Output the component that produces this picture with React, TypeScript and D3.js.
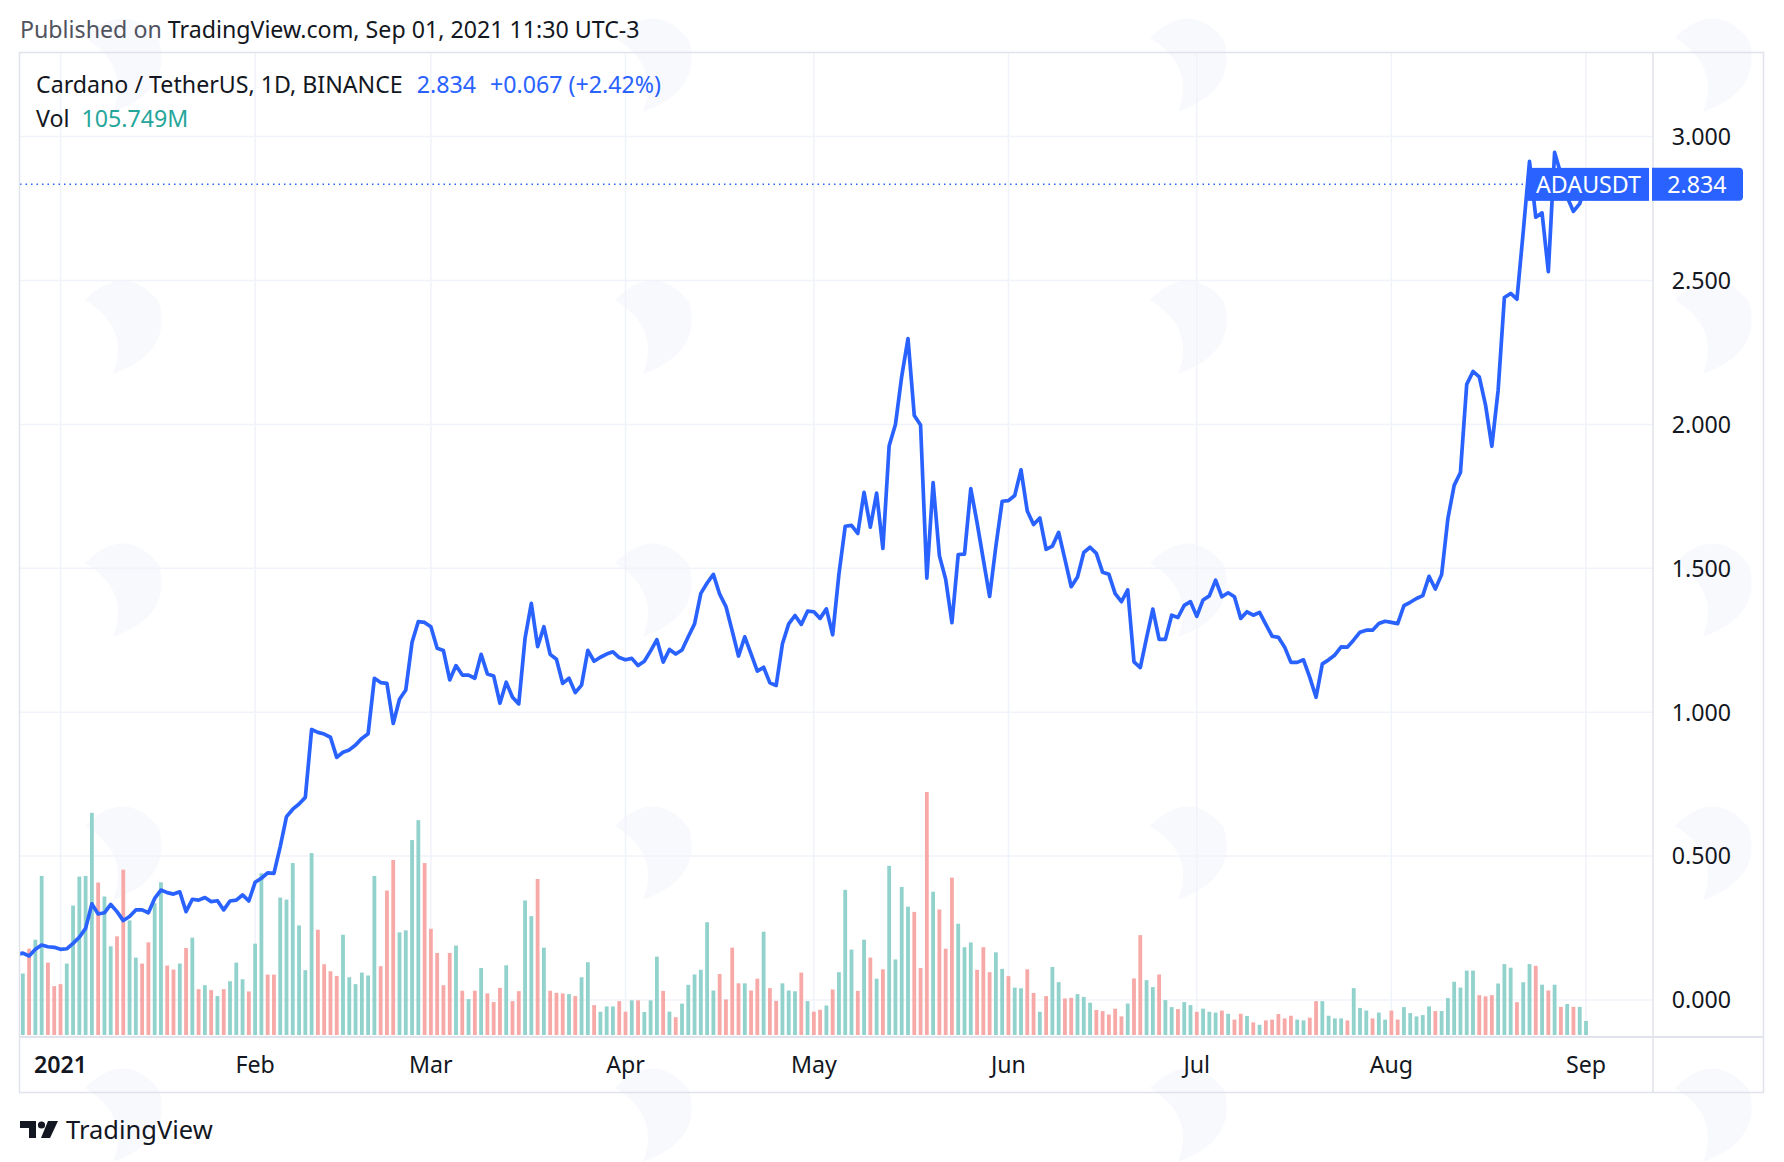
import React from "react";
import * as d3 from "d3";

// daily closes from 2020-12-25 to 2021-09-01 (ADA/USDT, Binance 1D)
const firstDay = new Date(2020, 11, 25);

const closes: number[] = [
  0.158, 0.163, 0.153, 0.176, 0.191, 0.185, 0.183,
  0.176, 0.178, 0.197, 0.218, 0.249, 0.334, 0.299, 0.303, 0.332, 0.307,
  0.276, 0.290, 0.313, 0.313, 0.303, 0.353, 0.382, 0.373, 0.368, 0.376,
  0.307, 0.350, 0.347, 0.356, 0.342, 0.345, 0.313, 0.344, 0.347, 0.365,
  0.344, 0.409, 0.423, 0.442, 0.440, 0.533, 0.637, 0.663, 0.681, 0.704,
  0.940, 0.930, 0.924, 0.913, 0.843, 0.861, 0.869, 0.886, 0.909, 0.925,
  1.118, 1.103, 1.100, 0.961, 1.045, 1.077, 1.243, 1.315, 1.312, 1.297,
  1.222, 1.214, 1.112, 1.162, 1.129, 1.129, 1.118, 1.201, 1.133, 1.126,
  1.031, 1.104, 1.052, 1.029, 1.257, 1.378, 1.228, 1.297, 1.201, 1.184,
  1.100, 1.118, 1.068, 1.094, 1.215, 1.177, 1.191, 1.202, 1.210, 1.190,
  1.182, 1.187, 1.162, 1.177, 1.213, 1.252, 1.174, 1.218, 1.202, 1.216,
  1.262, 1.307, 1.413, 1.449, 1.479, 1.410, 1.367, 1.282, 1.195, 1.262,
  1.203, 1.143, 1.156, 1.102, 1.093, 1.238, 1.307, 1.336, 1.305, 1.351,
  1.349, 1.326, 1.359, 1.269, 1.480, 1.646, 1.649, 1.621, 1.764, 1.643,
  1.761, 1.569, 1.926, 2.000, 2.167, 2.298, 2.031, 1.998, 1.466, 1.798,
  1.544, 1.462, 1.311, 1.548, 1.549, 1.777, 1.659, 1.530, 1.402, 1.577,
  1.733, 1.735, 1.753, 1.842, 1.699, 1.652, 1.675, 1.566, 1.577, 1.625,
  1.531, 1.436, 1.470, 1.555, 1.573, 1.552, 1.486, 1.479, 1.412, 1.384,
  1.425, 1.175, 1.155, 1.258, 1.358, 1.253, 1.253, 1.337, 1.329, 1.371,
  1.384, 1.333, 1.390, 1.404, 1.459, 1.401, 1.415, 1.401, 1.326, 1.349,
  1.337, 1.347, 1.305, 1.264, 1.260, 1.226, 1.173, 1.173, 1.182, 1.121,
  1.052, 1.168, 1.182, 1.199, 1.227, 1.226, 1.251, 1.278, 1.285, 1.285,
  1.308, 1.316, 1.312, 1.308, 1.370, 1.382, 1.395, 1.405, 1.472, 1.428,
  1.478, 1.673, 1.788, 1.833, 2.139, 2.184, 2.165, 2.067, 1.924, 2.118,
  2.441, 2.455, 2.435, 2.669, 2.914, 2.720, 2.735, 2.531, 2.945, 2.870,
  2.790, 2.740, 2.767, 2.834,
];

// daily volume, millions
const volumes: number[] = [
  500, 463, 650, 718, 1198, 545, 368,
  383, 538, 975, 1193, 1198, 1673, 1148, 1043, 668, 743,
  1245, 863, 583, 538, 698, 993, 1150, 523, 493, 538,
  655, 733, 345, 375, 338, 293, 345, 405, 545, 420,
  328, 688, 1218, 455, 455, 1035, 1020, 1295, 825, 488,
  1370, 793, 533, 480, 445, 755, 435, 383, 470, 448,
  1198, 518, 1088, 1318, 773, 788, 1468, 1618, 1295, 800,
  618, 375, 618, 673, 333, 270, 333, 505, 313, 248,
  355, 525, 255, 330, 1013, 895, 1175, 658, 333, 318,
  313, 308, 293, 435, 548, 225, 175, 215, 215, 255,
  176, 261, 261, 173, 261, 590, 332, 176, 134, 236,
  378, 456, 491, 849, 335, 459, 268, 658, 389, 389,
  335, 424, 778, 353, 257, 389, 335, 329, 470, 255,
  176, 190, 222, 343, 473, 1093, 643, 332, 718, 583,
  424, 495, 1274, 569, 1115, 966, 927, 505, 1830, 1079,
  945, 650, 1185, 838, 661, 697, 491, 661, 473, 623,
  498, 443, 357, 352, 495, 317, 175, 293, 512, 398,
  275, 280, 308, 287, 243, 188, 180, 154, 198, 140,
  237, 426, 752, 413, 361, 456, 263, 210, 195, 248,
  225, 175, 198, 175, 169, 184, 160, 116, 160, 143,
  95, 77, 110, 116, 158, 125, 145, 116, 110, 131,
  255, 255, 145, 125, 125, 110, 353, 204, 184, 125,
  169, 116, 184, 116, 210, 165, 140, 150, 215, 180,
  180, 278, 401, 357, 485, 485, 300, 291, 300, 388,
  534, 507, 247, 397, 534, 521, 379, 335, 379, 212,
  234, 212, 212, 106,
];

// candle direction per day: g = close above open, r = below
const candleDir =
  "rgrggrrrgg" + "gggrggrrgg" + "rrggrrgrgr" + "grgrgggrgg" + "rrggggggrr" +
  "rrggggggrr" + "rggggrrrrr" + "grgrgrrrgr" + "rggrgrrrgr" + "ggrgggrrgr" +
  "gggrgrgggg" + "ggrrrrgrrg" + "rrgggrgrrg" + "rgggrgrgrg" + "gggrrrgrrr" +
  "gggrrrggrg" + "grrgrggrrg" + "ggrrrrrgrr" + "ggrggrggrg" + "ggrgrrgrgr" +
  "rrrrggrrgg" + "ggrgggrggr" + "rgggggrggg" + "gggrrrgggr" + "ggrgrgrgrg" +
  "g";

const priceTicks = [0, 0.5, 1, 1.5, 2, 2.5, 3];
const symbolLabel = "ADAUSDT";
const lastClose = 2.834;

const W = 1784;
const H = 1162;
const paneLeft = 20;
const paneTop = 53;
const paneRight = 1653;
const paneBottom = 1037;
const frameRight = 1763;
const frameBottom = 1092;

const FONT = "'Noto Sans', Roboto, sans-serif";
const TEXT = "#131722";
const BLUE = "#2962ff";
const GRID = "#f0f3fa";
const BORDER = "#e0e3eb";
const FS = 23.2;

const days = closes.map((c, i) => ({
  date: d3.timeDay.offset(firstDay, i),
  close: c,
  vol: volumes[i],
  up: candleDir[i] === "g",
}));

// faint background watermark tiles
const markCols = [125, 655, 1190, 1715];
const markRows = [60, 322, 585, 848, 1110];

export default function App() {
  const x = d3
    .scaleTime()
    .domain([new Date(2021, 0, 1), new Date(2021, 8, 1)])
    .range([60.5, 1586]);
  const y = d3.scaleLinear().domain([0, 3]).range([1000, 136.6]);
  const vy = d3
    .scaleLinear()
    .domain([0, d3.max(volumes) || 1])
    .range([paneBottom - 2, 792]);

  const months = d3.timeMonth.range(new Date(2021, 0, 1), new Date(2021, 8, 2));
  const monthLabel = (d: Date) =>
    d.getMonth() === 0 ? d3.timeFormat("%Y")(d) : d3.timeFormat("%b")(d);

  const line = d3
    .line<(typeof days)[number]>()
    .x((d) => x(d.date))
    .y((d) => y(d.close));

  const barW = 3.8;
  const lastY = y(lastClose);

  return (
    <svg
      width={W}
      height={H}
      style={{ position: "absolute", left: 0, top: 0, background: "#fff" }}
      fontFamily={FONT}
    >
      <defs>
        <clipPath id="pane">
          <rect x={paneLeft} y={paneTop} width={paneRight - paneLeft} height={paneBottom - paneTop} />
        </clipPath>
      </defs>

      {markCols.map((cx) =>
        markRows.map((cy) => (
          <path
            key={cx + "-" + cy}
            d={`M${cx - 40},${cy - 22} Q${cx},${cy - 62} ${cx + 34},${cy - 20} Q${cx + 48},${cy + 30} ${cx - 12},${cy + 52} Q${cx + 6},${cy + 6} ${cx - 40},${cy - 22} z`}
            fill="#f8f9fd"
          />
        ))
      )}

      <text x={20} y={38} fontSize={FS} fill="#50535e">
        Published on <tspan fill={TEXT}>TradingView.com, Sep 01, 2021 11:30 UTC-3</tspan>
      </text>

      {/* grid */}
      {priceTicks.map((t) => (
        <line key={"h" + t} x1={paneLeft} x2={paneRight} y1={y(t)} y2={y(t)} stroke={GRID} strokeWidth={1.5} />
      ))}
      {months.map((m) => (
        <line key={"v" + m.getTime()} x1={x(m)} x2={x(m)} y1={paneTop} y2={paneBottom} stroke={GRID} strokeWidth={1.5} />
      ))}

      <g clipPath="url(#pane)">
        {days.map((d, i) => (
          <rect
            key={i}
            x={x(d.date) - barW / 2}
            y={vy(d.vol)}
            width={barW}
            height={vy(0) - vy(d.vol)}
            fill={d.up ? "#92d2cc" : "#f7a9a7"}
          />
        ))}
        <line x1={paneLeft} x2={1528} y1={lastY} y2={lastY} stroke="#2962ff" strokeWidth={1.5} strokeDasharray="1.5 4" />
        <path d={line(days) || ""} fill="none" stroke={BLUE} strokeWidth={3.7} strokeLinejoin="round" />
      </g>

      {/* legend */}
      <text x={36} y={93} fontSize={FS} fill={TEXT}>
        Cardano / TetherUS, 1D, BINANCE
        <tspan dx={14} fill={BLUE}>2.834</tspan>
        <tspan dx={14} fill={BLUE}>+0.067 (+2.42%)</tspan>
      </text>
      <text x={36} y={127} fontSize={FS} fill={TEXT}>
        Vol<tspan dx={12} fill="#26a69a">105.749M</tspan>
      </text>

      {/* frame and separators */}
      <rect x={paneLeft - 0.5} y={paneTop - 0.5} width={frameRight - paneLeft + 1} height={frameBottom - paneTop + 1} fill="none" stroke={BORDER} strokeWidth={1.5} />
      <line x1={paneRight} x2={paneRight} y1={paneTop} y2={frameBottom} stroke={BORDER} strokeWidth={1.5} />
      <line x1={paneLeft} x2={frameRight} y1={paneBottom} y2={paneBottom} stroke={BORDER} strokeWidth={2} />

      {/* price axis */}
      {priceTicks.map((t) => (
        <text key={"pt" + t} x={1731} y={y(t)} dy="0.36em" textAnchor="end" fontSize={FS} fill={TEXT}>
          {d3.format(".3f")(t)}
        </text>
      ))}

      {/* time axis */}
      {months.map((m) => (
        <text
          key={"mt" + m.getTime()}
          x={x(m)}
          y={1073}
          textAnchor="middle"
          fontSize={FS}
          fontWeight={m.getMonth() === 0 ? 600 : 400}
          fill={TEXT}
        >
          {monthLabel(m)}
        </text>
      ))}

      {/* last price labels */}
      <rect x={1528} y={lastY - 16.5} width={121} height={33} fill={BLUE} />
      <text x={1588.5} y={lastY} dy="0.36em" textAnchor="middle" fontSize={FS} fill="#fff">
        {symbolLabel}
      </text>
      <path
        d={`M1652,${lastY - 16.5} h87 a4,4 0 0 1 4,4 v25 a4,4 0 0 1 -4,4 h-87 z`}
        fill={BLUE}
      />
      <text x={1697} y={lastY} dy="0.36em" textAnchor="middle" fontSize={FS} fill="#fff">
        {d3.format(".3f")(lastClose)}
      </text>

      {/* footer logo */}
      <path d="M20,1121 h16 v17 h-7 v-10 h-9 z" fill={TEXT} />
      <circle cx={41.5} cy={1125} r={3.6} fill={TEXT} />
      <path d="M48,1121 h10 l-8,17 h-9 z" fill={TEXT} />
      <text x={66} y={1139} fontSize={25.5} fill={TEXT}>
        TradingView
      </text>
    </svg>
  );
}
